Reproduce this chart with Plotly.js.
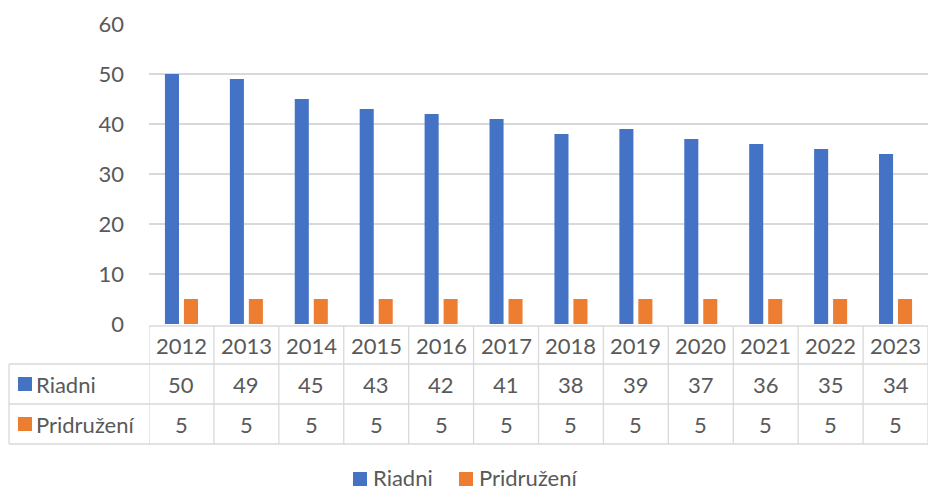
<!DOCTYPE html>
<html>
<head>
<meta charset="utf-8">
<script src="https://cdn.plot.ly/plotly-3.0.1.min.js"></script>
<style>html,body{margin:0;padding:0;background:#fff;}#chart{width:928px;height:490px;}</style>
</head>
<body>
<div id="chart"></div>
<script>
const years = ['2012','2013','2014','2015','2016','2017','2018','2019','2020','2021','2022','2023'];
const riadni = [50,49,45,43,42,41,38,39,37,36,35,34];
const pridruzeni = [5,5,5,5,5,5,5,5,5,5,5,5];
const seriesNames = ['Riadni','Pridružení'];
const seriesColors = ['#4472C4','#ED7D31'];
const yTicks = [0,10,20,30,40,50,60];

const W = 928, H = 490;
const L = 149, R = 0, T = 24, B = 166;
const plotW = W - L - R, plotH = H - T - B;
const FONT = 'Lato, "Open Sans", sans-serif';
const FS = 22;
const TXT = '#595959';
const LINE = '#d9d9d9';

function px2paperX(px){ return (px - L) / plotW; }
function py2paperY(py){ return (H - B - py) / plotH; }

const rowTop = 326, row1 = 364, row2 = 404, rowBot = 444, tableLeft = 9;

const shapes = [];
const annotations = [];
const lw = 1.3;
function hline(x0, x1, py){
  shapes.push({type:'line', xref:'paper', yref:'paper', x0:px2paperX(x0), x1:px2paperX(x1), y0:py2paperY(py), y1:py2paperY(py), line:{color:LINE,width:lw}});
}
function vlinePx(px, y0, y1){
  shapes.push({type:'line', xref:'paper', yref:'paper', x0:px2paperX(px), x1:px2paperX(px), y0:py2paperY(y0), y1:py2paperY(y1), line:{color:LINE,width:lw}});
}
function keySquare(cx, cy, color){
  shapes.push({type:'rect', xref:'paper', yref:'paper', x0:px2paperX(cx-7), x1:px2paperX(cx+7), y0:py2paperY(cy+7), y1:py2paperY(cy-7), fillcolor:color, line:{width:0}});
}
function label(px, py, text, anchor){
  annotations.push({xref:'paper', yref:'paper', x:px2paperX(px), y:py2paperY(py), text:text, showarrow:false, xanchor:anchor, yanchor:'middle', borderpad:0, font:{family:FONT,size:FS,color:TXT}});
}
hline(L, W, rowTop);
hline(tableLeft, W, row1);
hline(tableLeft, W, row2);
hline(tableLeft, W, rowBot);
vlinePx(tableLeft, row1, rowBot);
for (let k = 0; k <= years.length; k++) {
  shapes.push({type:'line', xref:'x', yref:'paper', x0:k-0.5, x1:k-0.5, y0:py2paperY(rowTop), y1:py2paperY(rowBot), line:{color:LINE,width:lw}});
}

// year row
years.forEach((yr, i) => {
  annotations.push({xref:'x', yref:'paper', x:i, y:py2paperY(345), text:yr, showarrow:false, xanchor:'center', yanchor:'middle', font:{family:FONT,size:FS,color:TXT}});
});
const rows = [riadni, pridruzeni];
const rowCenters = [384, 424];
rows.forEach((vals, r) => {
  vals.forEach((v, i) => {
    annotations.push({xref:'x', yref:'paper', x:i, y:py2paperY(rowCenters[r]), text:String(v), showarrow:false, xanchor:'center', yanchor:'middle', font:{family:FONT,size:FS,color:TXT}});
  });
  keySquare(25, rowCenters[r], seriesColors[r]);
  label(35, rowCenters[r], seriesNames[r], 'left');
});

// bottom legend
const legendY = 477;
const legendSquares = [360, 466];
seriesNames.forEach((nm, r) => {
  keySquare(legendSquares[r], legendY + 2, seriesColors[r]);
  label(legendSquares[r] + 12, legendY, nm, 'left');
});

const data = [
  {type:'bar', x:years, y:riadni, name:seriesNames[0], marker:{color:seriesColors[0]}},
  {type:'bar', x:years, y:pridruzeni, name:seriesNames[1], marker:{color:seriesColors[1]}}
];

const layout = {
  width: W, height: H,
  margin: {l:L, r:R, t:T, b:B, pad:0},
  paper_bgcolor:'#fff', plot_bgcolor:'#fff',
  barmode:'group', bargap:0.415, bargroupgap:0.26,
  font:{family:FONT, color:TXT, size:FS},
  xaxis:{type:'category', showticklabels:false, showgrid:false, zeroline:false, showline:false, ticks:'', range:[-0.5, years.length-0.5]},
  yaxis:{range:[0,60], tickvals:yTicks, ticktext:yTicks.map(String), showgrid:true, gridcolor:LINE, gridwidth:1.3, zeroline:false, showline:false, ticks:'', ticklabelstandoff:24, tickfont:{family:FONT,size:FS,color:TXT}},
  showlegend:false,
  shapes: shapes,
  annotations: annotations
};

Plotly.newPlot('chart', data, layout, {displayModeBar:false, staticPlot:true});
</script>
</body>
</html>
